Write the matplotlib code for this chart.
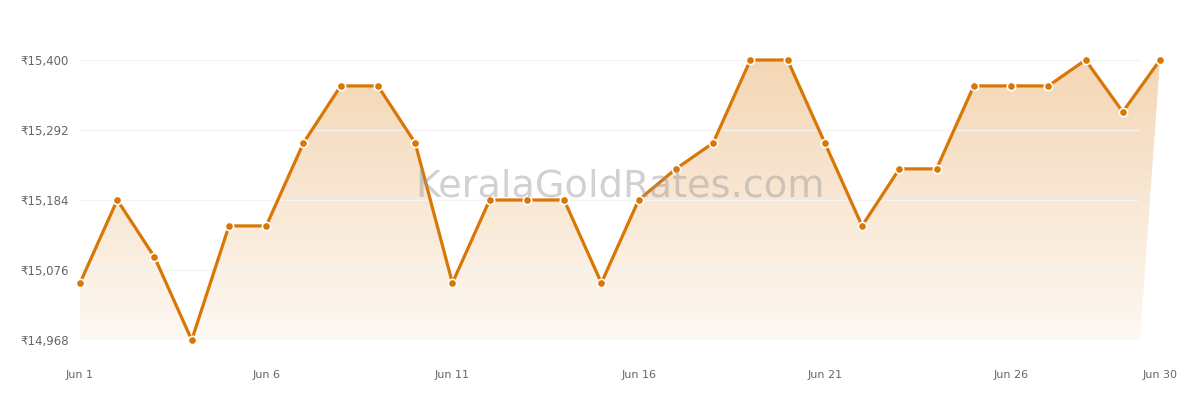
import numpy as np
import matplotlib.pyplot as plt
from matplotlib.patches import Polygon
from matplotlib.colors import LinearSegmentedColormap

# daily gold rate (Kerala), June
days = list(range(1, 31))
rates = [15056, 15184, 15096, 14968, 15144, 15144, 15272, 15360, 15360, 15272,
         15056, 15184, 15184, 15184, 15056, 15184, 15232, 15272, 15400, 15400,
         15272, 15144, 15232, 15232, 15360, 15360, 15360, 15400, 15320, 15400]
tick_days = [1, 6, 11, 16, 21, 26, 30]
y_ticks = [14968, 15076, 15184, 15292, 15400]

line_color = '#d97706'
text_color = '#666666'

fig = plt.figure(figsize=(12, 4), dpi=100)
# background axes for the gradient, spanning Jun 1..Jun 30 (80..1160 px)
ax_bg = fig.add_axes([80 / 1200, 60 / 400, 1080 / 1200, 280 / 400])
ax_bg.axis('off')
# plot area spans x 80..1140 px, y 60..340 px; Jun 30 sits just past the right edge
ax = fig.add_axes([80 / 1200, 60 / 400, 1060 / 1200, 280 / 400])
ax.patch.set_alpha(0)
step = 1080 / 29
x_right = 1 + 1060 / step
ymin, ymax = min(rates), max(rates)
ax.set_xlim(1, x_right)
ax.set_ylim(ymin, ymax)
ax_bg.set_xlim(1, 30)
ax_bg.set_ylim(ymin, ymax)

# gradient area under the line
verts = list(zip(days, rates)) + [(x_right, ymin), (1, ymin)]
poly = Polygon(verts, closed=True, facecolor='none', edgecolor='none',
               transform=ax_bg.transData)
cmap = LinearSegmentedColormap.from_list('fade', [(0.851, 0.467, 0.024, 0.05),
                                                  (0.851, 0.467, 0.024, 0.30)])
grad = np.linspace(0, 1, 256).reshape(-1, 1)
img = ax_bg.imshow(grad, cmap=cmap, aspect='auto', origin='lower',
                   extent=[1, 30, ymin, ymax], zorder=1)
img.set_clip_path(poly)
img.set_clip_box(None)
ax_bg.set_xlim(1, 30)
ax_bg.set_ylim(ymin, ymax)

ax.plot(days, rates, color=line_color, linewidth=2.3, marker='o', markersize=6,
        markerfacecolor=line_color, markeredgecolor='white', markeredgewidth=1.2,
        clip_on=False, zorder=3)

ax.set_yticks(y_ticks)
ax.set_yticklabels([f'₹{v:,}' for v in y_ticks])
ax.grid(axis='y', color='#f3f3f3', linewidth=1, zorder=0)
ax.set_xticks([])
for d in tick_days:
    ax.annotate(f'Jun {d}', xy=(d, ymin), xytext=(0, -25), textcoords='offset points',
                ha='center', va='center', fontsize=8, color=text_color,
                annotation_clip=False)
ax.tick_params(axis='y', length=0, pad=8, labelsize=8.5, labelcolor=text_color)
for s in ax.spines.values():
    s.set_visible(False)

fig.text(620 / 1200, 1 - 186 / 400, 'KeralaGoldRates.com', ha='center', va='center',
         fontsize=27.5, color='#999999', alpha=0.45, zorder=5)

fig.savefig('out.png', dpi=100)
